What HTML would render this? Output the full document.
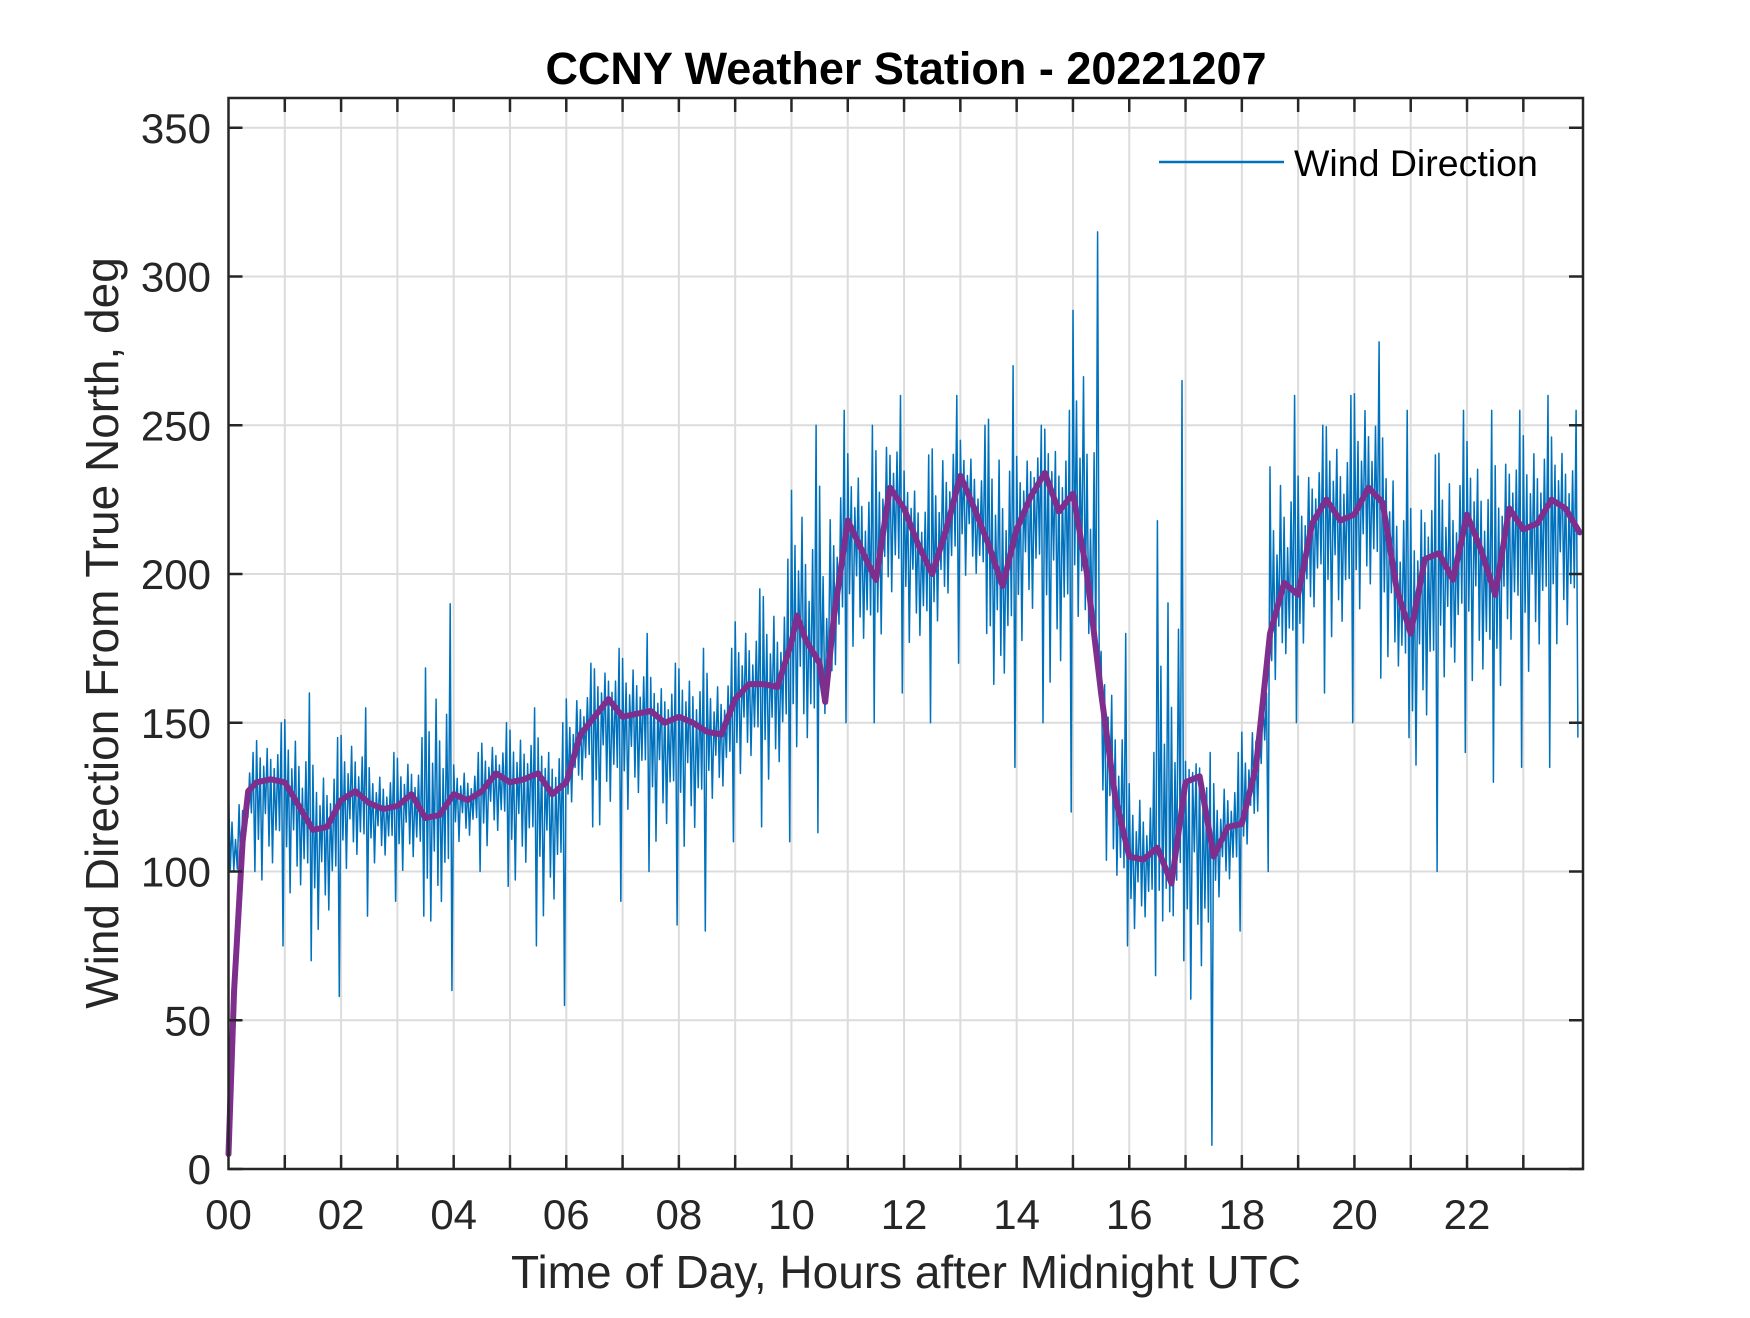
<!DOCTYPE html>
<html><head><meta charset="utf-8"><style>
html,body{margin:0;padding:0;background:#fff}
svg text{font-family:"Liberation Sans",Arial,sans-serif;fill:#262626}
</style></head><body>
<svg id="chart" width="1750" height="1313" viewBox="0 0 1750 1313" xmlns="http://www.w3.org/2000/svg">
<rect width="1750" height="1313" fill="#fff"/>
<g id="grid"></g>
<g id="series"></g>
<g id="axes"></g>
<text x="906" y="84" text-anchor="middle" font-size="45" font-weight="bold" style="fill:#000">CCNY Weather Station - 20221207</text>
<text x="906" y="1288" text-anchor="middle" font-size="46">Time of Day, Hours after Midnight UTC</text>
<text x="0" y="0" text-anchor="middle" font-size="46" transform="translate(118,633) rotate(-90)">Wind Direction From True North, deg</text>
<g>
<line x1="1159" y1="162" x2="1284" y2="162" stroke="#0072BD" stroke-width="2.5"/>
<text x="1294" y="176" font-size="37.5" style="fill:#000">Wind Direction</text>
</g>
</svg>
<script>
const smoothHours=[0,0.1,0.25,0.35,0.5,0.75,1,1.25,1.5,1.75,2,2.25,2.5,2.75,3,3.25,3.5,3.75,4,4.25,4.5,4.75,5,5.25,5.5,5.75,6,6.25,6.5,6.75,7,7.25,7.5,7.75,8,8.25,8.5,8.75,9,9.25,9.5,9.75,10,10.1,10.25,10.5,10.6,10.75,11,11.25,11.5,11.75,12,12.25,12.5,12.75,13,13.25,13.5,13.75,14,14.25,14.5,14.75,15,15.25,15.5,15.75,16,16.25,16.5,16.75,17,17.25,17.5,17.75,18,18.25,18.5,18.75,19,19.25,19.5,19.75,20,20.25,20.5,20.75,21,21.25,21.5,21.75,22,22.25,22.5,22.75,23,23.25,23.5,23.75,24];
const smoothValues=[5,60,110,127,130,131,130,122,114,115,124,127,123,121,122,126,118,119,126,124,127,133,130,131,133,126,130,146,152,158,152,153,154,150,152,150,147,146,158,163,163,162,177,186,178,170,157,185,218,208,198,229,222,210,200,215,233,222,210,196,215,226,234,221,227,200,160,125,105,104,108,96,130,132,105,115,116,135,180,197,193,217,225,218,220,229,224,195,180,205,207,198,220,208,193,222,215,217,225,222,214];
const binStarts=[0,0.5,1,1.5,2,2.5,3,3.5,4,4.5,5,5.5,6,6.5,7,7.5,8,8.5,9,9.5,10,10.5,11,11.5,12,12.5,13,13.5,14,14.5,15,15.5,16,16.5,17,17.5,18,18.5,19,19.5,20,20.5,21,21.5,22,22.5,23,23.5];
const binHigh=[140,150,160,145,155,140,145,190,140,150,155,150,170,175,180,170,175,175,195,205,250,255,250,260,240,260,250,270,250,255,315,180,140,265,140,140,160,260,250,260,278,255,240,255,255,255,260,255];
const binLow=[100,75,70,58,85,90,85,60,100,95,75,55,115,90,100,82,80,110,115,110,113,150,150,160,150,170,180,135,150,120,165,75,65,70,8,80,100,150,160,150,165,145,100,140,130,135,135,145];
const xTicks=[0,2,4,6,8,10,12,14,16,18,20,22];
const xTickLabels=["00","02","04","06","08","10","12","14","16","18","20","22"];
const yTicks=[0,50,100,150,200,250,300,350];

const L=228.5,R=1583,T=98,B=1169,XMAX=24.06,YMAX=360;
const xs=h=>L+h/XMAX*(R-L);
const ys=v=>B-v/YMAX*(B-T);
const NS="http://www.w3.org/2000/svg";
function mk(tag,attrs,parent){const e=document.createElementNS(NS,tag);for(const k in attrs)e.setAttribute(k,attrs[k]);parent.appendChild(e);return e;}
const grid=document.getElementById('grid'),axes=document.getElementById('axes'),series=document.getElementById('series');
for(let h=1;h<24;h++){const g=mk('line',{x1:xs(h),x2:xs(h),y1:T,y2:B,stroke:'#dcdcdc','stroke-width':2},grid);

}
yTicks.forEach(v=>{if(v===0)return;const g=mk('line',{x1:L,x2:R,y1:ys(v),y2:ys(v),stroke:'#dcdcdc','stroke-width':2},grid);

});
function interpSmooth(h){for(let i=1;i<smoothHours.length;i++){if(h<=smoothHours[i]){const a=smoothHours[i-1],b=smoothHours[i];const t=(h-a)/(b-a);return smoothValues[i-1]+t*(smoothValues[i]-smoothValues[i-1]);}}return smoothValues[smoothValues.length-1];}
const pattern=[0.7,-0.35,0.4,-0.6,0.25,-0.2,0.55,-0.4,0.35,-0.5,0.2,-0.3,0.45,-0.3,1,-1];
let pts=[];
binStarts.forEach((s,i)=>{const n=pattern.length;for(let k=0;k<n;k++){const h=s+k*0.5/n;const m=Math.max(interpSmooth(h),binLow[i]+1);const p=pattern[k];
let v=p>0?m+p*(binHigh[i]-m):m+p*(m-binLow[i]);v=Math.max(0,v);pts.push(xs(h).toFixed(1)+','+ys(v).toFixed(1));}});
const blue=mk('polyline',{points:pts.join(' '),fill:'none',stroke:'#0072BD','stroke-width':1.5,'stroke-linejoin':'round'},series);


const sp=smoothHours.map((h,i)=>xs(h).toFixed(1)+','+ys(smoothValues[i]).toFixed(1)).join(' ');
const purple=mk('polyline',{points:sp,fill:'none',stroke:'#7E2F8E','stroke-width':6,'stroke-linejoin':'round','stroke-linecap':'round'},series);


const box=mk('rect',{x:L,y:T,width:R-L,height:B-T,fill:'none',stroke:'#262626','stroke-width':2.5},axes);


for(let h=1;h<24;h++){mk('line',{x1:xs(h),x2:xs(h),y1:B,y2:B-14,stroke:'#262626','stroke-width':2.5},axes);mk('line',{x1:xs(h),x2:xs(h),y1:T,y2:T+14,stroke:'#262626','stroke-width':2.5},axes);}
xTicks.forEach((h,i)=>{const t=mk('text',{x:xs(h),y:1229,'text-anchor':'middle','font-size':42},axes);t.textContent=xTickLabels[i];

});
yTicks.forEach(v=>{mk('line',{x1:L,x2:L+14,y1:ys(v),y2:ys(v),stroke:'#262626','stroke-width':2.5},axes);mk('line',{x1:R,x2:R-14,y1:ys(v),y2:ys(v),stroke:'#262626','stroke-width':2.5},axes);
const t=mk('text',{x:211,y:ys(v)+15,'text-anchor':'end','font-size':42},axes);t.textContent=String(v);

});
</script>
</body></html>
